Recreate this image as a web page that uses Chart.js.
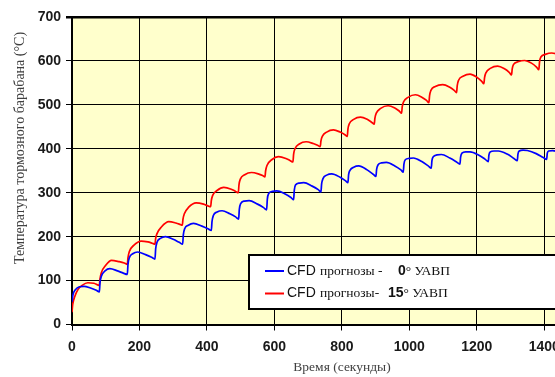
<!DOCTYPE html>
<html>
<head>
<meta charset="utf-8">
<script src="https://cdn.jsdelivr.net/npm/chart.js@4/dist/chart.umd.min.js"></script>
<style>
  html, body { margin: 0; padding: 0; background: #fff; overflow: hidden; }
  canvas { display: block; }
</style>
</head>
<body>
<canvas id="myChart" width="610" height="377"></canvas>
<script>
// Время (с) и температура (°C)
const redTime = [0, 2, 8, 18, 30, 47, 65, 81,
  83, 87, 100, 117, 140, 155, 164,
  166, 170, 183, 205, 225, 238, 246,
  248, 252, 265, 287, 308, 320, 327,
  329, 333, 346, 368, 390, 403, 411,
  413, 417, 430, 450, 472, 485, 493,
  495, 499, 512, 532, 552, 565, 572,
  574, 578, 592, 612, 634, 647, 655,
  657, 661, 674, 694, 715, 728, 736,
  738, 742, 755, 775, 795, 809, 816,
  818, 822, 835, 855, 875, 889, 896,
  898, 902, 915, 937, 957, 970, 977,
  979, 983, 996, 1018, 1038, 1051, 1058,
  1060, 1064, 1077, 1099, 1120, 1133, 1140,
  1142, 1146, 1159, 1180, 1200, 1214, 1221,
  1223, 1227, 1240, 1262, 1282, 1296, 1303,
  1305, 1309, 1322, 1342, 1362, 1377, 1384,
  1386, 1390, 1403, 1422, 1440];
const redTemp = [28, 45, 63, 80, 89, 95, 94, 89,
  104, 118, 135, 146, 143, 140, 137,
  152, 166, 180, 190, 188, 185, 183,
  196, 207, 222, 234, 231, 228, 226,
  240, 252, 267, 277, 274, 270, 268,
  282, 294, 305, 312, 308, 303, 300,
  318, 331, 341, 346, 343, 339, 336,
  350, 362, 375, 382, 378, 373, 370,
  388, 400, 411, 416, 412, 408, 405,
  418, 428, 438, 443, 438, 432, 428,
  445, 457, 467, 472, 467, 460, 456,
  470, 481, 492, 498, 493, 486, 481,
  496, 507, 517, 523, 517, 510, 505,
  521, 533, 542, 546, 540, 533, 528,
  544, 556, 565, 570, 563, 554, 548,
  562, 573, 583, 588, 582, 574, 568,
  582, 592, 598, 601, 595, 586, 580,
  598, 609, 615, 618, 616];

const blueTime = [0, 3, 10, 22, 36, 55, 72, 81,
  83, 87, 98, 112, 135, 152, 164,
  166, 170, 180, 195, 218, 236, 246,
  248, 252, 262, 277, 300, 318, 328,
  330, 334, 345, 360, 385, 403, 413,
  415, 419, 430, 445, 468, 485, 494,
  496, 500, 511, 525, 550, 568, 577,
  579, 583, 594, 607, 632, 649, 657,
  659, 663, 674, 687, 712, 730, 738,
  740, 744, 755, 770, 795, 811, 818,
  820, 824, 835, 850, 875, 893, 901,
  903, 907, 918, 932, 957, 975, 982,
  984, 988, 999, 1012, 1037, 1056, 1065,
  1067, 1071, 1082, 1095, 1120, 1140, 1150,
  1152, 1156, 1167, 1180, 1205, 1225, 1234,
  1236, 1240, 1251, 1264, 1290, 1310, 1320,
  1322, 1326, 1337, 1350, 1376, 1397, 1407,
  1409, 1413, 1425, 1440];
const blueTemp = [52, 68, 79, 86, 87, 83, 78, 74,
  95, 110, 122, 127, 122, 117, 114,
  137, 152, 161, 165, 159, 153, 149,
  172, 187, 196, 200, 194, 187, 183,
  204, 218, 226, 230, 224, 218, 214,
  234, 248, 256, 259, 252, 245, 240,
  262, 275, 281, 282, 274, 266, 261,
  285, 298, 303, 304, 297, 289, 284,
  306, 318, 322, 323, 315, 307, 302,
  320, 332, 340, 343, 335, 327, 323,
  341, 351, 358, 361, 352, 342, 337,
  353, 363, 368, 369, 361, 352, 347,
  365, 375, 378, 379, 371, 361, 356,
  373, 382, 386, 387, 379, 370, 365,
  381, 390, 393, 393, 386, 376, 371,
  386, 393, 395, 395, 388, 378, 373,
  388, 395, 397, 396, 389, 380, 376,
  390, 395, 396, 394];

const xTicks = [0, 200, 400, 600, 800, 1000, 1200, 1400];
const yTicks = [0, 100, 200, 300, 400, 500, 600, 700];

function toPoints(t, v) {
    return t.map((x, i) => ({ x: x, y: v[i] }));
}

// фон области построения, подписи осей и легенда
const decor = {
    id: 'decor',
    beforeDraw(chart) {
        const a = chart.chartArea;
        const ctx = chart.ctx;
        ctx.save();
        ctx.fillStyle = '#FFFFCC';
        ctx.fillRect(a.left, a.top, a.right - a.left, a.bottom - a.top);
        ctx.restore();
    },
    afterDraw(chart) {
        const ctx = chart.ctx;
        ctx.save();
        // подпись оси Y
        ctx.fillStyle = '#404040';
        ctx.font = '14px "Liberation Serif", "Times New Roman", serif';
        ctx.textAlign = 'center';
        ctx.textBaseline = 'middle';
        ctx.translate(20, 148);
        ctx.rotate(-Math.PI / 2);
        ctx.fillText('Температура тормозного барабана (°C)', 0, 0);
        ctx.restore();

        ctx.save();
        ctx.fillStyle = '#404040';
        ctx.font = '13.5px "Liberation Serif", "Times New Roman", serif';
        ctx.textAlign = 'center';
        ctx.textBaseline = 'middle';
        ctx.fillText('Время (секунды)', 342, 367);

        // легенда
        ctx.fillStyle = '#fff';
        ctx.fillRect(249, 255, 400, 54);
        ctx.strokeStyle = '#000';
        ctx.lineWidth = 2;
        ctx.strokeRect(249, 255, 400, 54);

        const rows = [
            { y: 271, color: '#0000FF', deg: '0', pr: 'прогнозы -', degX: 398 },
            { y: 293.5, color: '#FF0000', deg: '15', pr: 'прогнозы-', degX: 388 }
        ];
        rows.forEach(r => {
            ctx.strokeStyle = r.color;
            ctx.lineWidth = 2;
            ctx.beginPath();
            ctx.moveTo(265, r.y);
            ctx.lineTo(284, r.y);
            ctx.stroke();

            ctx.fillStyle = '#111';
            ctx.textAlign = 'left';
            ctx.textBaseline = 'middle';
            ctx.font = '14px "Liberation Sans", Arial, sans-serif';
            ctx.fillText('CFD', 287, r.y);
            ctx.font = '13.5px "Liberation Serif", "Times New Roman", serif';
            ctx.fillText(r.pr, 320, r.y);
            ctx.font = 'bold 14px "Liberation Sans", Arial, sans-serif';
            ctx.fillText(r.deg, r.degX, r.y);
            const w = ctx.measureText(r.deg).width;
            ctx.font = '13.5px "Liberation Serif", "Times New Roman", serif';
            ctx.fillText('° УАВП', r.degX + w, r.y);
        });
        ctx.restore();
    }
};

const ctx = document.getElementById('myChart').getContext('2d');
const myChart = new Chart(ctx, {
    type: 'line',
    data: {
        datasets: [{
            label: 'CFD прогнозы - 0° УАВП',
            data: toPoints(blueTime, blueTemp),
            borderColor: '#0000FF',
            borderWidth: 1.7,
            pointRadius: 0,
            fill: false,
            cubicInterpolationMode: 'monotone'
        }, {
            label: 'CFD прогнозы- 15° УАВП',
            data: toPoints(redTime, redTemp),
            borderColor: '#FF0000',
            borderWidth: 1.7,
            pointRadius: 0,
            fill: false,
            cubicInterpolationMode: 'monotone'
        }]
    },
    options: {
        responsive: false,
        animation: false,
        layout: { padding: { left: 0, top: 17, right: 32, bottom: 0 } },
        plugins: {
            legend: { display: false },
            tooltip: { enabled: false }
        },
        scales: {
            x: {
                type: 'linear',
                min: 0,
                max: 1500,
                afterFit(scale) { scale.height = 52.5; },
                afterBuildTicks(scale) { scale.ticks = xTicks.map(v => ({ value: v })); },
                ticks: {
                    color: '#1a1a1a',
                    font: { family: '"Liberation Sans", Arial, sans-serif', size: 14, weight: 'bold' },
                    padding: 8,
                    maxRotation: 0,
                    autoSkip: false,
                    callback: v => String(v)
                },
                grid: { color: '#000', lineWidth: 1, tickLength: 6, tickColor: '#000' },
                border: { display: true, color: '#000', width: 2 }
            },
            y: {
                min: 0,
                max: 700,
                afterFit(scale) { scale.width = 72; },
                afterBuildTicks(scale) { scale.ticks = yTicks.map(v => ({ value: v })); },
                ticks: {
                    color: '#1a1a1a',
                    font: { family: '"Liberation Sans", Arial, sans-serif', size: 14, weight: 'bold' },
                    padding: 5,
                    callback: v => String(v)
                },
                grid: {
                    color: '#000',
                    lineWidth: c => (c.tick && c.tick.value === 700 ? 2.5 : 1),
                    tickLength: 6,
                    tickColor: '#000'
                },
                border: { display: true, color: '#000', width: 2 }
            }
        }
    },
    plugins: [decor]
});
</script>
</body>
</html>
